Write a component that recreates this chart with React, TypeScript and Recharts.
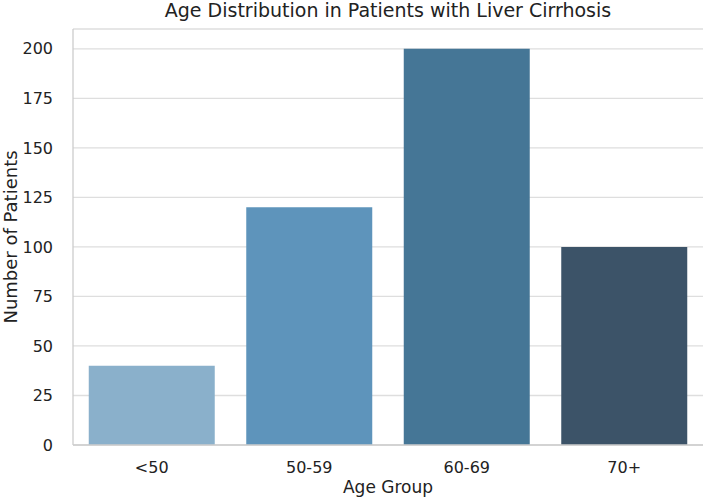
import { BarChart, Bar, Cell, XAxis, YAxis, CartesianGrid } from 'recharts'

const AGE_GROUPS = ['<50', '50-59', '60-69', '70+']
const PATIENTS = [40, 120, 200, 100]
const BAR_COLORS = ['#8ab0cb', '#5e94bb', '#457696', '#3c5368']
const Y_TICKS = [0, 25, 50, 75, 100, 125, 150, 175, 200]

const FONT = '"DejaVu Sans", sans-serif'
const TEXT = '#222222'
const GRID = '#dedede'
const FRAME = '#cccccc'

const data = AGE_GROUPS.map((group, i) => ({ group, patients: PATIENTS[i] }))

export default function App() {
  return (
    <div style={{ position: 'absolute', left: 0, top: 0, width: 708, height: 498, background: '#fff', fontFamily: FONT, overflow: 'hidden' }}>
      <BarChart
        width={708} height={498} data={data}
        margin={{ top: 29, right: 5, left: 0, bottom: 0 }}
        barCategoryGap="10%"
        style={{ fontFamily: FONT }}
      >
        <CartesianGrid stroke={GRID} strokeWidth={1.3} vertical={false} />
        <XAxis
          dataKey="group" height={53} tickLine={false} tickMargin={11}
          axisLine={{ stroke: FRAME, strokeWidth: 1.3 }}
          tick={{ fill: TEXT, fontSize: 16 }}
        />
        <XAxis xAxisId="top" dataKey="group" orientation="top" height={0} tick={false} tickLine={false}
          axisLine={{ stroke: FRAME, strokeWidth: 1.3 }} />
        <YAxis
          domain={[0, 210]} ticks={Y_TICKS} width={73} tickLine={false} tickMargin={14}
          axisLine={{ stroke: FRAME, strokeWidth: 1.3 }}
          tick={{ fill: TEXT, fontSize: 16 }}
        />
        <YAxis yAxisId="right" orientation="right" width={0} domain={[0, 210]} tick={false} tickLine={false}
          axisLine={{ stroke: FRAME, strokeWidth: 1.3 }} />
        <Bar dataKey="patients" isAnimationActive={false}>
          {data.map((d, i) => (
            <Cell key={d.group} fill={BAR_COLORS[i]} />
          ))}
        </Bar>
      </BarChart>

      {/* title and axis titles */}
      <div style={{ position: 'absolute', left: 88, width: 600, top: 1, lineHeight: '19px', textAlign: 'center', fontSize: 19, color: TEXT, whiteSpace: 'nowrap' }}>
        Age Distribution in Patients with Liver Cirrhosis
      </div>
      <div style={{ position: 'absolute', left: 238, width: 300, top: 479, lineHeight: '17px', textAlign: 'center', fontSize: 17, color: TEXT, whiteSpace: 'nowrap' }}>
        Age Group
      </div>
      <div style={{
        position: 'absolute', left: 11 - 150, top: 237 - 9, width: 300, lineHeight: '18px', height: 18,
        textAlign: 'center', fontSize: 18, color: TEXT, whiteSpace: 'nowrap', transform: 'rotate(-90deg)',
      }}>
        Number of Patients
      </div>
    </div>
  )
}
